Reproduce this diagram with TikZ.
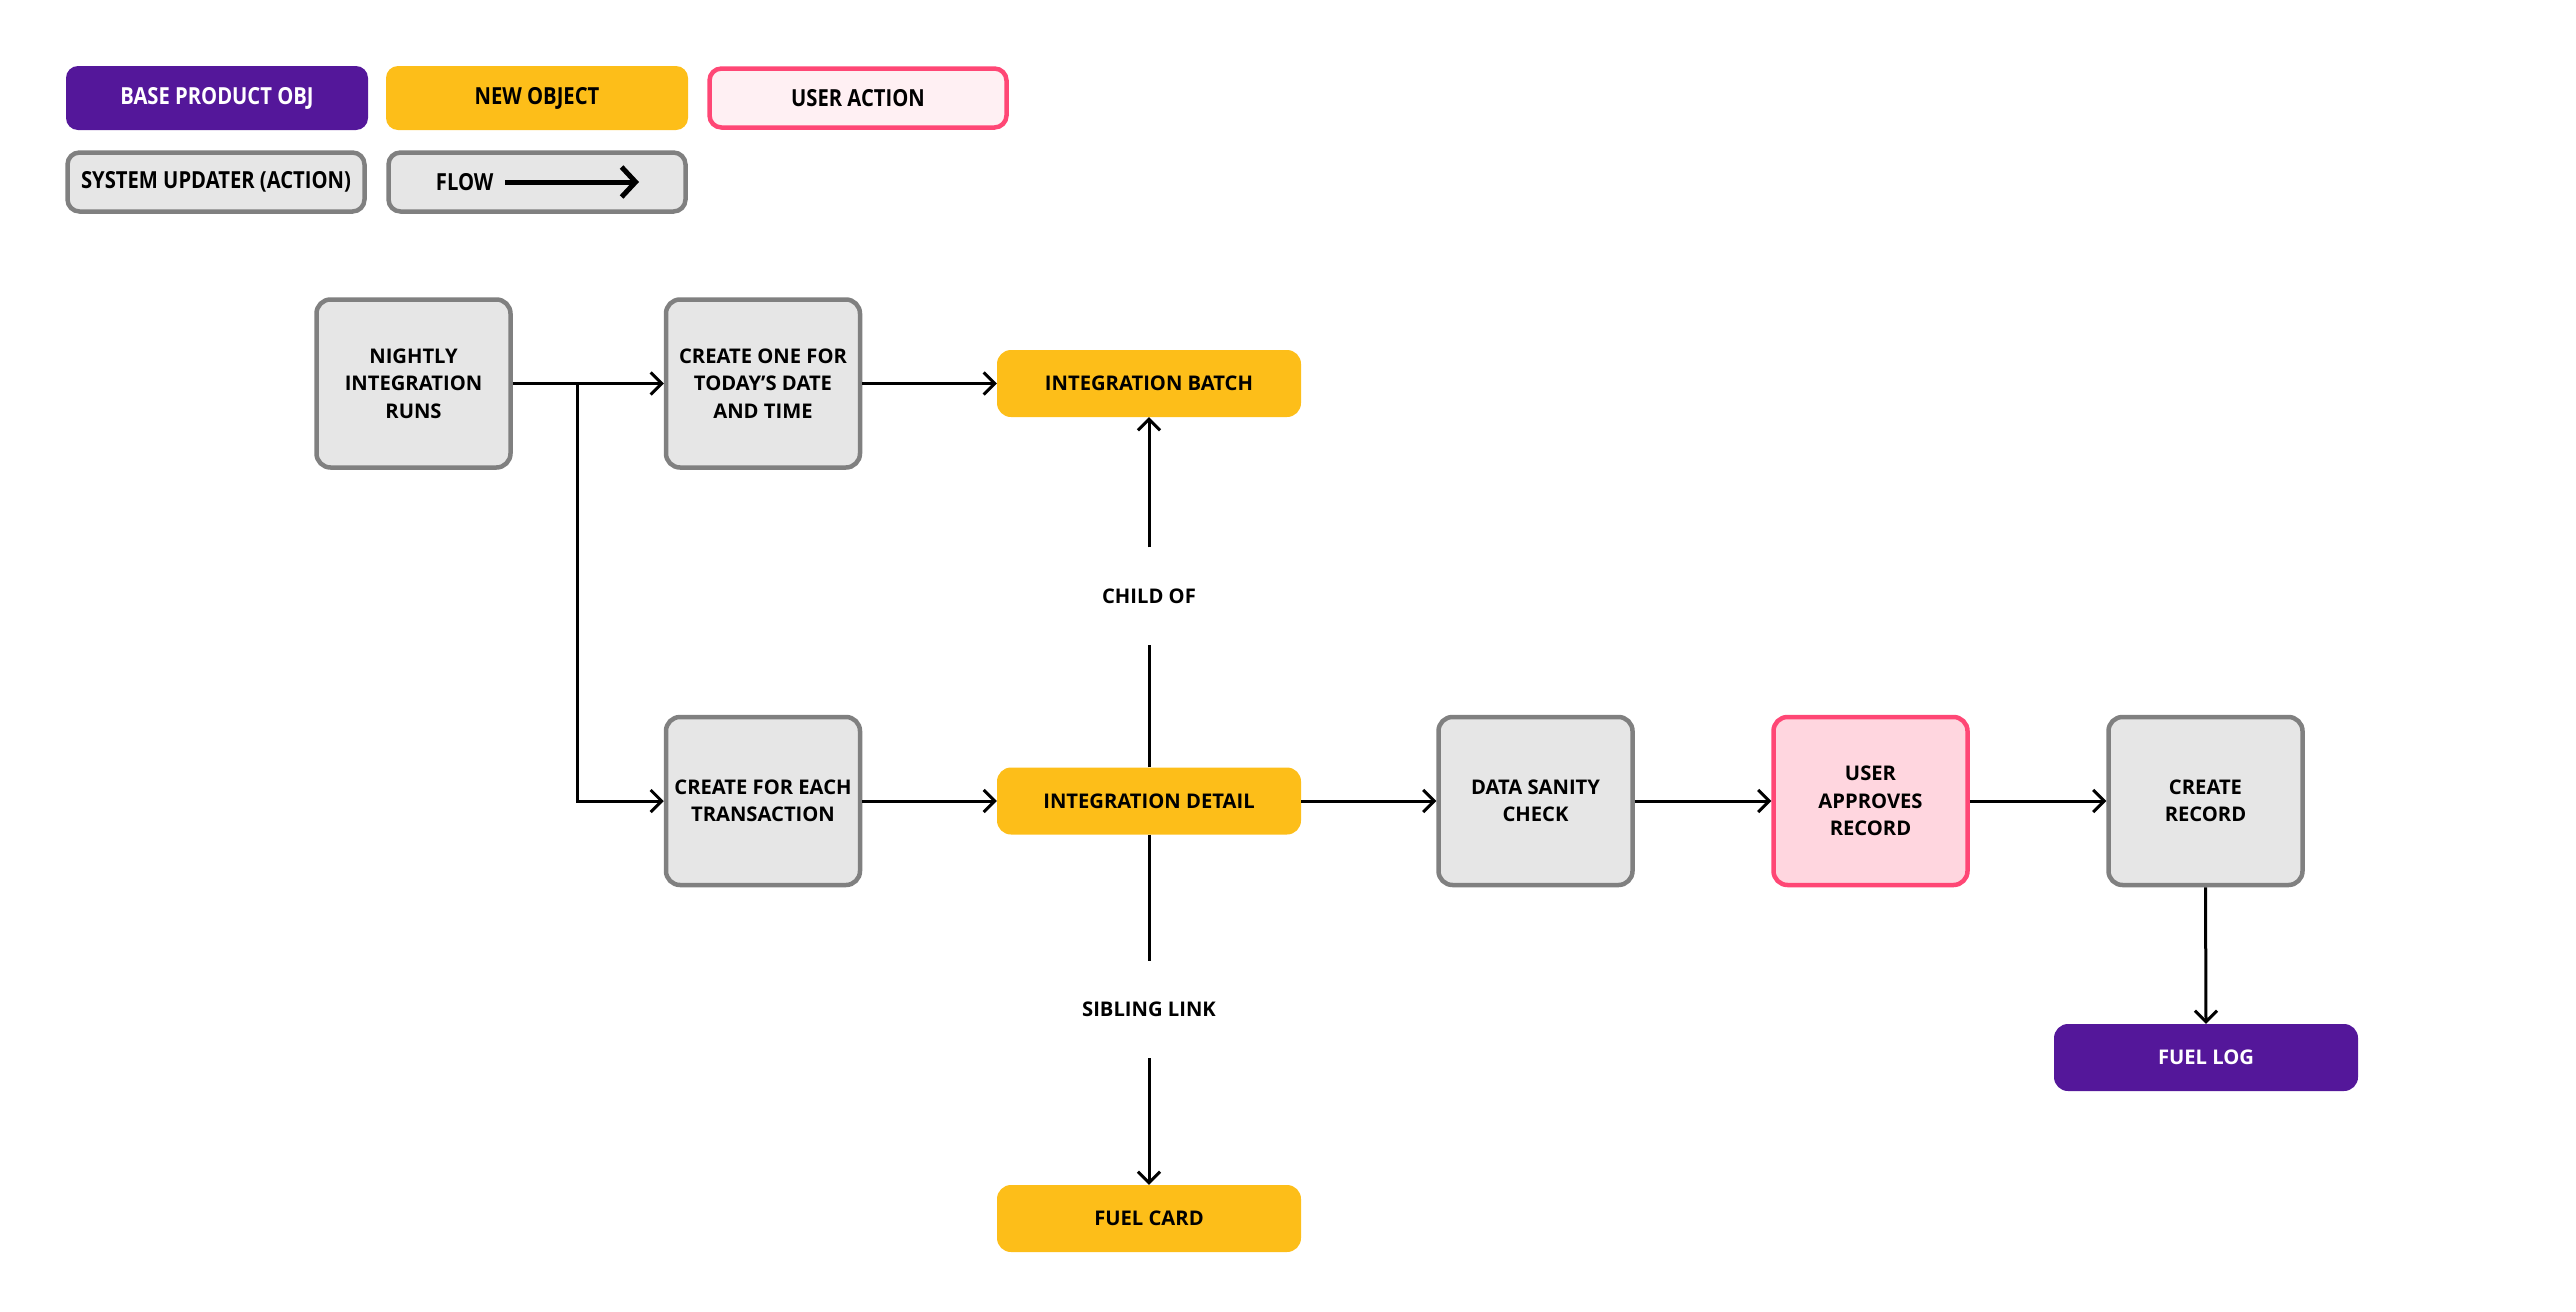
\documentclass[tikz,border=0pt]{standalone}
\usepackage{fontspec}
\setmainfont{Open Sans}
\newfontfamily\condfont{Open Sans}[FakeStretch=0.86]
\usetikzlibrary{arrows.meta}
\definecolor{purp}{HTML}{54179A}
\definecolor{yel}{HTML}{FDBE19}
\definecolor{pinkb}{HTML}{FF4775}
\definecolor{pinkf}{HTML}{FFD6DF}
\definecolor{pinkl}{HTML}{FFF0F3}
\definecolor{grayf}{HTML}{E6E6E6}
\definecolor{grayb}{HTML}{808080}
\tikzset{
  x=1pt,y=-1pt,
  every node/.style={font=\fontsize{20.2}{27.5}\selectfont\bfseries, align=center},
  sysbox/.style={draw=grayb, fill=grayf, line width=4.5pt, rounded corners=14pt, minimum width=194pt, minimum height=168pt, inner sep=0pt},
  userbox/.style={sysbox, draw=pinkb, fill=pinkf},
  newobj/.style={fill=yel, rounded corners=14pt, minimum width=304pt, minimum height=67pt, inner sep=0pt},
  baseobj/.style={fill=purp, text=white, rounded corners=14pt, minimum width=304pt, minimum height=67pt, inner sep=0pt},
  legbox/.style={rounded corners=12pt, minimum width=302pt, minimum height=64pt, inner sep=0pt, font=\fontsize{23.5}{28}\condfont\bfseries},
  lbl/.style={minimum height=97pt, inner sep=0pt},
  flow/.style={line width=3pt, -{Straight Barb[length=11pt,width=22pt,line width=3pt]}},
  plain/.style={line width=3pt},
}
\begin{document}
\begin{tikzpicture}
\useasboundingbox (0,0) rectangle (2576,1312);
% legend
\node[legbox, fill=purp, text=white] (lgbase) at (217,98) {BASE PRODUCT OBJ};
\node[legbox, fill=yel] (lgnew) at (537,98) {NEW OBJECT};
\node[legbox, fill=pinkl, draw=pinkb, line width=4.5pt, minimum width=297pt, minimum height=59pt] (lguser) at (858,98) {USER ACTION};
\node[legbox, fill=grayf, draw=grayb, line width=4.5pt, minimum width=297pt, minimum height=59pt] (lgsys) at (216,182) {SYSTEM UPDATER (ACTION)};
\node[legbox, fill=grayf, draw=grayb, line width=4.5pt, minimum width=297pt, minimum height=59pt] (lgflow) at (537,182) {};
\node[font=\fontsize{23.5}{28}\condfont\bfseries, anchor=east] (lgflowt) at (497,182) {FLOW};
\coordinate (lgfa) at (505,182);
\coordinate (lgfb) at (639,182);
\draw[line width=5pt, -{Straight Barb[length=14pt,width=30pt,line width=5pt]}] (lgfa) -- (lgfb);
% main nodes
\node[sysbox] (night) at (413.5,383.5) {NIGHTLY\\INTEGRATION\\RUNS};
\node[sysbox] (one) at (763,383.5) {CREATE ONE FOR\\TODAY’S DATE\\AND TIME};
\node[newobj] (batch) at (1149,383.5) {INTEGRATION BATCH};
\node[sysbox] (each) at (763,801) {CREATE FOR EACH\\TRANSACTION};
\node[newobj] (detail) at (1149,801) {INTEGRATION DETAIL};
\node[sysbox] (sanity) at (1535.5,801) {DATA SANITY\\CHECK};
\node[userbox] (approve) at (1870.5,801) {USER\\APPROVES\\RECORD};
\node[sysbox] (record) at (2205.5,801) {CREATE\\RECORD};
\node[baseobj] (fuellog) at (2206,1057.5) {FUEL LOG};
\node[newobj] (card) at (1149,1218.5) {FUEL CARD};
\node[lbl] (child) at (1149,596) {CHILD OF};
\node[lbl] (sib) at (1149,1009.5) {SIBLING LINK};
% connectors
\coordinate (br) at (577,383.5);
\draw[flow] (night.east) -- (one.west);
\draw[flow] (br) |- (each.west);
\draw[flow] (one.east) -- (batch.west);
\draw[plain] (detail.north) -- (child.south);
\draw[flow] (child.north) -- (batch.south);
\draw[plain] (detail.south) -- (sib.north);
\draw[flow] (sib.south) -- (card.north);
\draw[flow] (each.east) -- (detail.west);
\draw[flow] (detail.east) -- (sanity.west);
\draw[flow] (sanity.east) -- (approve.west);
\draw[flow] (approve.east) -- (record.west);
\draw[flow] (record.south) -- (fuellog.north);
\end{tikzpicture}
\end{document}
